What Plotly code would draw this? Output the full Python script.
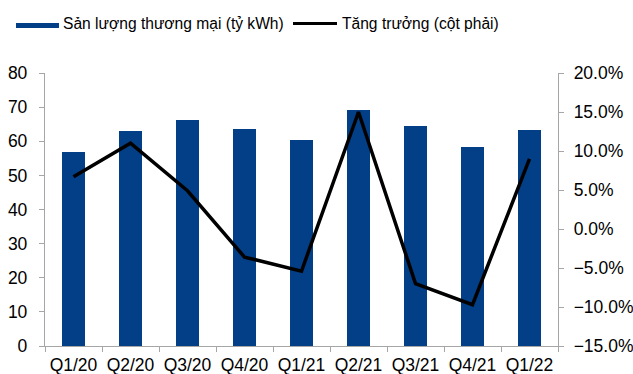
import plotly.graph_objects as go

quarters = ["Q1/20", "Q2/20", "Q3/20", "Q4/20", "Q1/21", "Q2/21", "Q3/21", "Q4/21", "Q1/22"]
output_bn_kwh = [56.9, 63.1, 66.2, 63.7, 60.3, 69.3, 64.4, 58.2, 63.4]
growth_pct = [6.7, 11.0, 4.9, -3.6, -5.4, 15.0, -7.0, -9.7, 9.0]

BAR_COLOR = "#023F86"
AXIS_COLOR = "#A6A6A6"
FONT = "Liberation Sans, Arial, sans-serif"

W, H = 633, 374
L, R, T, B = 45, 75, 73, 28
PW, PH = W - L - R, H - T - B


def px_x(x):
    return (x - L) / PW


def px_y(y):
    return (H - B - y) / PH


fig = go.Figure()
fig.add_trace(go.Bar(
    x=quarters, y=output_bn_kwh, name="Sản lượng thương mại (tỷ kWh)",
    marker=dict(color=BAR_COLOR, line=dict(width=0)), width=0.41,
    showlegend=False,
))
fig.add_trace(go.Scatter(
    x=quarters, y=growth_pct, yaxis="y2", mode="lines",
    name="Tăng trưởng (cột phải)",
    line=dict(color="black", width=3.5), showlegend=False,
))

# legend drawn by hand: wide flat swatch for bars, short stroke for the line
fig.add_shape(type="rect", xref="paper", yref="paper",
              x0=px_x(16), x1=px_x(59), y0=px_y(28), y1=px_y(23),
              fillcolor=BAR_COLOR, line=dict(width=0))
fig.add_shape(type="line", xref="paper", yref="paper",
              x0=px_x(293), x1=px_x(337), y0=px_y(23.5), y1=px_y(23.5),
              line=dict(color="black", width=3))
fig.add_annotation(xref="paper", yref="paper", x=px_x(61), y=px_y(24),
                   text="Sản lượng thương mại (tỷ kWh)", showarrow=False,
                   xanchor="left", yanchor="middle",
                   font=dict(size=15.6, color="black", family=FONT))
fig.add_annotation(xref="paper", yref="paper", x=px_x(340), y=px_y(24),
                   text="Tăng trưởng (cột phải)", showarrow=False,
                   xanchor="left", yanchor="middle",
                   font=dict(size=15.6, color="black", family=FONT))

axis_common = dict(showgrid=False, zeroline=False, showline=True,
                   linecolor=AXIS_COLOR, linewidth=1.3, ticks="outside",
                   ticklen=5, tickcolor=AXIS_COLOR, tickwidth=1.3,
                   automargin=False,
                   tickfont=dict(size=17.5, color="black", family=FONT))

fig.update_layout(
    width=W, height=H,
    margin=dict(l=L, r=R, t=T, b=B, pad=0),
    paper_bgcolor="white", plot_bgcolor="white",
    font=dict(family=FONT, color="black"),
    bargap=0,
    xaxis=dict(type="category", range=[-0.5, 8.5], tickson="boundaries",
               tickangle=0, ticklabelstandoff=3, **axis_common),
    yaxis=dict(range=[0, 80], dtick=10, ticklabelstandoff=8, **axis_common),
    yaxis2=dict(range=[-15, 20], dtick=5, overlaying="y", side="right",
                tickformat=".1f", ticksuffix="%", ticklabelstandoff=6,
                **axis_common),
)

fig.write_html("out.html")
